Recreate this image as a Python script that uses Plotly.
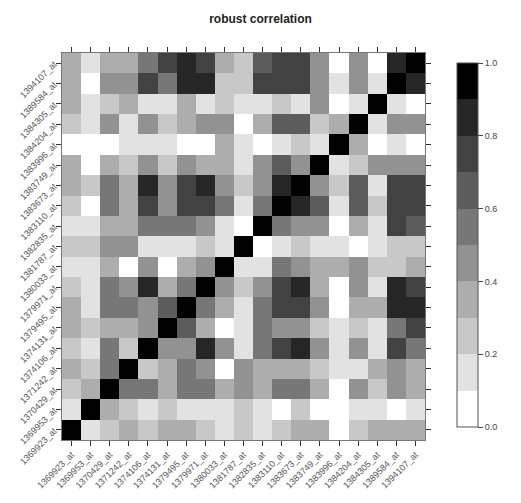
import plotly.graph_objects as go

genes = ["1369923_at", "1369953_at", "1370429_at", "1371242_at", "1374106_at",
         "1374131_at", "1379495_at", "1379971_at", "1380033_at", "1381787_at",
         "1382835_at", "1383110_at", "1383673_at", "1383749_at", "1383996_at",
         "1384204_at", "1384305_at", "1389584_at", "1394107_at"]

# correlation matrix, row i = genes[i] (bottom to top), column j = genes[j]
corr = [
    [1.0, .15, .25, .35, .25, .35, .35, .25, .15, .25, .15, .25, .35, .35, .05, .25, .35, .35, .35],
    [.15, 1.0, .35, .25, .15, .25, .15, .15, .15, .25, .15, .05, .25, .05, .05, .15, .15, .05, .15],
    [.25, .35, 1.0, .55, .55, .35, .55, .55, .35, .45, .35, .55, .55, .35, .05, .45, .25, .45, .35],
    [.35, .25, .55, 1.0, .25, .35, .55, .45, .05, .45, .35, .35, .35, .25, .15, .15, .35, .45, .35],
    [.25, .15, .55, .25, 1.0, .45, .45, .85, .45, .15, .55, .75, .85, .45, .15, .45, .15, .75, .55],
    [.35, .25, .35, .35, .45, 1.0, .65, .35, .05, .15, .55, .45, .45, .25, .15, .25, .15, .55, .75],
    [.35, .15, .55, .55, .45, .65, 1.0, .55, .35, .15, .55, .75, .75, .45, .05, .35, .35, .85, .85],
    [.25, .15, .55, .45, .85, .35, .55, 1.0, .45, .25, .45, .75, .85, .35, .05, .45, .15, .85, .75],
    [.15, .15, .35, .05, .45, .05, .35, .45, 1.0, .15, .15, .55, .45, .35, .35, .45, .25, .25, .35],
    [.25, .25, .45, .45, .15, .15, .15, .25, .15, 1.0, .05, .15, .25, .15, .15, .05, .15, .25, .25],
    [.15, .15, .35, .35, .55, .55, .55, .45, .15, .05, 1.0, .55, .45, .45, .05, .35, .15, .75, .65],
    [.25, .05, .55, .35, .75, .45, .75, .75, .55, .15, .55, 1.0, .85, .65, .15, .65, .25, .75, .75],
    [.35, .25, .55, .35, .85, .45, .75, .85, .45, .25, .45, .85, 1.0, .45, .25, .65, .15, .75, .75],
    [.35, .05, .35, .25, .45, .25, .45, .35, .35, .15, .45, .65, .45, 1.0, .15, .25, .45, .45, .45],
    [.05, .05, .05, .15, .15, .15, .05, .05, .35, .15, .05, .15, .25, .15, 1.0, .35, .05, .15, .05],
    [.25, .15, .45, .15, .45, .25, .35, .45, .45, .05, .35, .65, .65, .25, .35, 1.0, .15, .45, .45],
    [.35, .15, .25, .35, .15, .15, .35, .15, .25, .15, .15, .25, .15, .45, .05, .15, 1.0, .15, .05],
    [.35, .05, .45, .45, .75, .55, .85, .85, .25, .25, .75, .75, .75, .45, .15, .45, .15, 1.0, .85],
    [.35, .15, .35, .35, .55, .75, .85, .75, .35, .25, .65, .75, .75, .45, .05, .45, .05, .85, 1.0],
]

cbar_ticks = [0.0, 0.2, 0.4, 0.6, 0.8, 1.0]
grays = ["#ffffff", "#e2e2e2", "#c8c8c8", "#adadad", "#929292",
         "#777777", "#5c5c5c", "#424242", "#262626", "#000000"]

cs = []
n = len(grays)
for k, c in enumerate(grays):
    cs.append([k / n, c])
    cs.append([(k + 1) / n, c])

fig = go.Figure(go.Heatmap(
    z=corr, x=genes, y=genes, zmin=0, zmax=1, colorscale=cs,
    xgap=0, ygap=0,
    colorbar=dict(
        x=1.0615, xanchor="left", y=1.0, yanchor="top", len=0.992,
        thickness=21, thicknessmode="pixels", lenmode="fraction",
        outlinewidth=1, outlinecolor="#555555",
        tickvals=cbar_ticks, ticktext=[f"{v:.1f}" for v in cbar_ticks],
        ticks="outside", ticklen=5, tickcolor="#444444",
        tickfont=dict(family="Liberation Sans, Arial", size=9, color="#444444"),
    ),
))

axis_common = dict(
    type="category", showgrid=False, zeroline=False,
    showline=True, linecolor="#777777", linewidth=1, mirror="ticks",
    ticks="outside", ticklen=5, tickcolor="#333333", tickangle=-45,
    tickfont=dict(family="Liberation Sans, Arial", size=9, color="#555555"),
)

fig.update_layout(
    width=521, height=503,
    margin=dict(l=62, r=69, t=53, b=60),
    paper_bgcolor="white", plot_bgcolor="white",
    title=dict(text="<b>robust correlation</b>", x=0.5, xanchor="center",
               y=0.963, yanchor="middle",
               font=dict(family="Liberation Sans, Arial", size=12, color="#222222")),
    xaxis=dict(**axis_common, constrain="domain"),
    yaxis=dict(**axis_common),
)

fig.write_html("out.html")
